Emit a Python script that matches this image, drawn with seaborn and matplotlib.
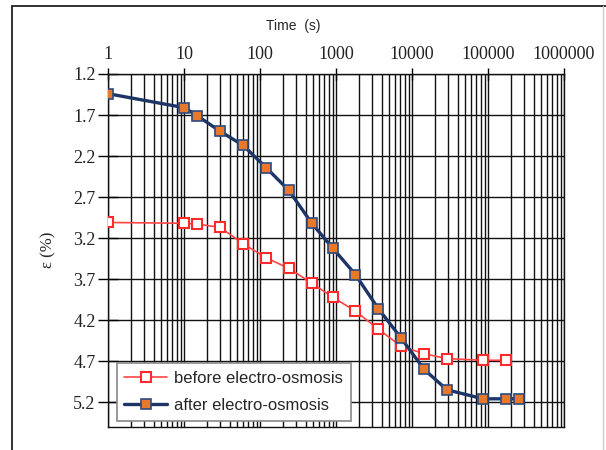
import numpy as np
import pandas as pd
import matplotlib
matplotlib.use('Agg')
import matplotlib.pyplot as plt
import seaborn as sns
from matplotlib.lines import Line2D
from matplotlib.ticker import FixedLocator, LogLocator, NullFormatter

# Datos
tiempo_antes = [1, 10, 15, 30, 60, 120, 240, 480, 900, 1800, 3600, 7200,
                14400, 28800, 86400, 172800]
eps_antes = [3.01, 3.02, 3.03, 3.07, 3.27, 3.44, 3.57, 3.75, 3.92, 4.09,
             4.31, 4.52, 4.61, 4.67, 4.69, 4.69]

tiempo_despues = [1, 10, 15, 30, 60, 120, 240, 480, 900, 1800, 3600, 7200,
                  14400, 28800, 86400, 172800, 259200]
eps_despues = [1.44, 1.61, 1.71, 1.90, 2.07, 2.34, 2.62, 3.02, 3.32, 3.645,
               4.06, 4.42, 4.80, 5.05, 5.16, 5.16, 5.16]

decadas = [1, 10, 100, 1000, 10000, 100000, 1000000]
etiquetas_x = ['1', '10', '100', '1000', '10000', '100000', '1000000']
ticks_y = [1.2, 1.7, 2.2, 2.7, 3.2, 3.7, 4.2, 4.7, 5.2]

sns.set_style('white')
plt.rcParams['font.family'] = ['Liberation Sans', 'DejaVu Sans']

fig = plt.figure(figsize=(6.06, 4.5), dpi=100)
ax = fig.add_axes([108 / 606, 1 - 426.7 / 450, 456 / 606, (426.7 - 74) / 450])
ax.set_xscale('log')

# Curvas
sns.lineplot(x=tiempo_antes, y=eps_antes, ax=ax, color='#ff4545', lw=1.2,
             marker='s', markersize=6.5, markerfacecolor='white',
             markeredgecolor='#ff2a2a', markeredgewidth=1.5,
             label='before electro-osmosis', zorder=3)
sns.lineplot(x=tiempo_despues, y=eps_despues, ax=ax, color='#1c3566', lw=2.4,
             marker='s', markersize=6.5, markerfacecolor='#e8782a',
             markeredgecolor='#2c4a80', markeredgewidth=1.2,
             label='after electro-osmosis', zorder=4)

# Ejes
ax.set_xlim(1, 1e6)
ax.set_ylim(5.5, 1.2)
ax.xaxis.tick_top()
ax.xaxis.set_major_locator(FixedLocator(decadas))
ax.set_xticklabels(etiquetas_x)
ax.xaxis.set_minor_locator(LogLocator(base=10, subs=np.arange(2, 10)))
ax.xaxis.set_minor_formatter(NullFormatter())
ax.set_yticks(ticks_y)
ax.set_yticklabels([f'{v:.1f}' for v in ticks_y])

for lab in ax.get_xticklabels() + ax.get_yticklabels():
    lab.set_fontfamily('Liberation Serif')
    lab.set_fontsize(13)
    lab.set_color('#222222')

ax.tick_params(axis='x', which='major', direction='inout', length=8,
               width=1, color='black', pad=4, top=True, bottom=False)
ax.tick_params(axis='x', which='minor', length=0)
ax.tick_params(axis='y', which='major', direction='inout', length=14,
               width=1, color='black', pad=2, left=True)

ax.grid(True, which='both', axis='x', color='#111111', lw=1.0, zorder=0)
ax.grid(True, which='major', axis='y', color='#111111', lw=1.0, zorder=0)
ax.set_axisbelow(True)
for s in ax.spines.values():
    s.set_color('#111111')
    s.set_linewidth(1.0)

ax.set_xlabel('')
ax.set_ylabel('')

# Leyenda
leg = ax.legend(loc='lower left', bbox_to_anchor=(0.019, 0.017),
                borderaxespad=0, fontsize=12, frameon=True, fancybox=False,
                edgecolor='#888888', framealpha=1, handlelength=2.6,
                labelspacing=0.75, borderpad=0.45, handletextpad=0.4)
leg.get_frame().set_linewidth(1.2)

# Titulos
fig.text(293 / 606, 1 - 25.7 / 450, 'Time  (s)', ha='center', va='center',
         fontsize=10)
fig.text(48 / 606, 1 - 250 / 450, 'ε (%)', ha='center', va='center',
         rotation=90, fontsize=12, family='Liberation Serif')

# Marco exterior
fig.add_artist(Line2D([12 / 606, 12 / 606], [0, 1 - 6 / 450],
                      transform=fig.transFigure, color='#222222', lw=1.3))
fig.add_artist(Line2D([12 / 606, 1], [1 - 6 / 450, 1 - 6 / 450],
                      transform=fig.transFigure, color='#222222', lw=1.3))
fig.add_artist(Line2D([603 / 606, 603 / 606], [0, 1 - 6 / 450],
                      transform=fig.transFigure, color='#cccccc', lw=1.0))

fig.savefig('out.png', dpi=100)
